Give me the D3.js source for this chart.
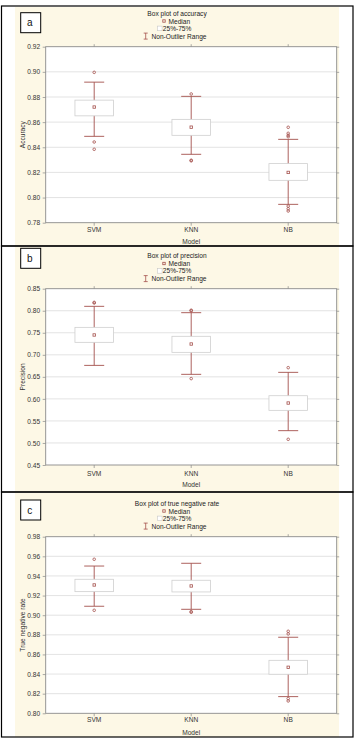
<!DOCTYPE html>
<html><head><meta charset="utf-8">
<script src="https://cdn.jsdelivr.net/npm/d3@7/dist/d3.min.js"></script>
<style>
html,body{margin:0;padding:0;background:#fff;}
svg{display:block;font-family:"Liberation Sans",Arial,sans-serif;}
</style></head>
<body>
<script>
// ---------- DATA ----------
const models = ["SVM", "KNN", "NB"];

// Panel a: accuracy
const accTicks = [0.78, 0.80, 0.82, 0.84, 0.86, 0.88, 0.90, 0.92];
const accMedian = [0.872, 0.856, 0.820];
const accQ1 = [0.865, 0.8495, 0.8137];
const accQ3 = [0.8775, 0.8622, 0.8270];
const accLow = [0.8487, 0.8344, 0.7946];
const accHigh = [0.8918, 0.8805, 0.8463];
const accOutliers = [[0.8996, 0.8442, 0.8384], [0.8824, 0.8297, 0.8292], [0.8559, 0.8511, 0.8495, 0.8484, 0.7932, 0.7911, 0.7893]];

// Panel b: precision
const precTicks = [0.45, 0.50, 0.55, 0.60, 0.65, 0.70, 0.75, 0.80, 0.85];
const precMedian = [0.745, 0.7245, 0.5906];
const precQ1 = [0.7283, 0.7056, 0.574];
const precQ3 = [0.7623, 0.742, 0.6072];
const precLow = [0.676, 0.6557, 0.5279];
const precHigh = [0.810, 0.7956, 0.6602];
const precOutliers = [[0.819, 0.8175], [0.8012, 0.7998, 0.646], [0.6708, 0.5083]];

// Panel c: true negative rate
const tnrTicks = [0.80, 0.82, 0.84, 0.86, 0.88, 0.90, 0.92, 0.94, 0.96, 0.98];
const tnrMedian = [0.9308, 0.9298, 0.8469];
const tnrQ1 = [0.924, 0.9237, 0.8398];
const tnrQ3 = [0.9366, 0.9356, 0.854];
const tnrLow = [0.9091, 0.906, 0.817];
const tnrHigh = [0.9501, 0.9529, 0.8775];
const tnrOutliers = [[0.957, 0.905], [0.9036, 0.9030], [0.8836, 0.8809, 0.8150, 0.8126]];

// ---------- BUILD ----------
const W = 358, H = 740;
const svg = d3.select("body").append("svg").attr("width", W).attr("height", H);

const RED = "#a4504c";
const panels = [
  {letter: "a", title: "Box plot of accuracy", yLabel: "Accuracy", ticks: accTicks,
   med: accMedian, q1: accQ1, q3: accQ3, lo: accLow, hi: accHigh, out: accOutliers,
   top: 6, bottom: 246, titleY: 15.5, boxY: 12.7, plotTop: 46.7, plotBottom: 222.7, xLabY: 232.5, modelY: 243.5},
  {letter: "b", title: "Box plot of precision", yLabel: "Precision", ticks: precTicks,
   med: precMedian, q1: precQ1, q3: precQ3, lo: precLow, hi: precHigh, out: precOutliers,
   top: 246, bottom: 492, titleY: 258, boxY: 248.3, plotTop: 288.7, plotBottom: 465, xLabY: 475.5, modelY: 486.5},
  {letter: "c", title: "Box plot of true negative rate", yLabel: "True negative rate", ticks: tnrTicks,
   med: tnrMedian, q1: tnrQ1, q3: tnrQ3, lo: tnrLow, hi: tnrHigh, out: tnrOutliers,
   top: 492, bottom: 737, titleY: 505.5, boxY: 500, plotTop: 536.7, plotBottom: 713.3, xLabY: 722.5, modelY: 734.5}
];

const plotLeft = 45.7, plotRight = 336.7;

panels.forEach(p => {
  const g = svg.append("g");
  // cream background
  g.append("rect").attr("x", 15).attr("y", p.top + 1).attr("width", 324).attr("height", p.bottom - p.top - 1)
    .attr("fill", "#fdf8e6");
  // panel border
  g.append("rect").attr("x", 1.5).attr("y", p.top).attr("width", 351.5).attr("height", p.bottom - p.top)
    .attr("fill", "none").attr("stroke", "#000").attr("stroke-width", 1.2);

  // label box
  g.append("rect").attr("x", 20.7).attr("y", p.boxY).attr("width", 20).attr("height", 20)
    .attr("fill", "#fff").attr("stroke", "#000").attr("stroke-width", 1);
  g.append("text").attr("x", 29.8).attr("y", p.boxY + 13.5).attr("text-anchor", "middle")
    .attr("font-size", 10).attr("fill", "#111").text(p.letter);

  // title & legend
  const cx = 177;
  g.append("text").attr("x", cx).attr("y", p.titleY).attr("text-anchor", "middle")
    .attr("font-size", 6.6).attr("fill", "#222").text(p.title);
  // Median
  g.append("rect").attr("x", 162.8).attr("y", p.titleY + 4.3).attr("width", 2.4).attr("height", 2.4)
    .attr("fill", "none").attr("stroke", RED).attr("stroke-width", 0.8);
  g.append("text").attr("x", 168.5).attr("y", p.titleY + 8).attr("font-size", 6.6).attr("fill", "#222").text("Median");
  // 25%-75%
  g.append("rect").attr("x", 157.5).attr("y", p.titleY + 10.6).attr("width", 4.6).attr("height", 4.6)
    .attr("fill", "#fff").attr("stroke", "#c8c8c8").attr("stroke-width", 0.6);
  g.append("text").attr("x", 162.8).attr("y", p.titleY + 15.3).attr("font-size", 6.6).attr("fill", "#222").text("25%-75%");
  // Non-Outlier Range
  const wy0 = p.titleY + 17.6, wy1 = p.titleY + 23.6;
  g.append("line").attr("x1", 145.7).attr("x2", 145.7).attr("y1", wy0).attr("y2", wy1).attr("stroke", RED).attr("stroke-width", 0.8);
  g.append("line").attr("x1", 143.7).attr("x2", 147.7).attr("y1", wy0).attr("y2", wy0).attr("stroke", RED).attr("stroke-width", 0.8);
  g.append("line").attr("x1", 143.7).attr("x2", 147.7).attr("y1", wy1).attr("y2", wy1).attr("stroke", RED).attr("stroke-width", 0.8);
  g.append("text").attr("x", 151.5).attr("y", p.titleY + 23.3).attr("font-size", 6.6).attr("fill", "#222").text("Non-Outlier Range");

  // scales
  const x = d3.scaleBand().domain(models).range([plotLeft, plotRight]).padding(0);
  const y = d3.scaleLinear().domain([p.ticks[0], p.ticks[p.ticks.length - 1]]).range([p.plotBottom, p.plotTop]);

  // plot bg
  g.append("rect").attr("x", plotLeft).attr("y", p.plotTop).attr("width", plotRight - plotLeft)
    .attr("height", p.plotBottom - p.plotTop).attr("fill", "#fff");

  // gridlines
  g.append("g").selectAll("line").data(p.ticks.slice(1, -1)).join("line")
    .attr("x1", plotLeft).attr("x2", plotRight).attr("y1", d => y(d)).attr("y2", d => y(d))
    .attr("stroke", "#dcdcdc").attr("stroke-width", 0.8);

  // left axis
  const yAxis = d3.axisLeft(y).tickValues(p.ticks).tickFormat(d3.format(".2f")).tickSize(3).tickPadding(2.5);
  const ya = g.append("g").attr("transform", `translate(${plotLeft},0)`).call(yAxis);
  ya.select(".domain").remove();
  ya.selectAll("line").attr("stroke", "#888").attr("stroke-width", 0.7);
  ya.selectAll("text").attr("font-size", 6.6).attr("fill", "#333").attr("font-family", "Liberation Sans, Arial, sans-serif");
  // right ticks
  const yr = g.append("g").attr("transform", `translate(${plotRight},0)`).call(d3.axisRight(y).tickValues(p.ticks).tickSize(2.5).tickFormat(""));
  yr.select(".domain").remove();
  yr.selectAll("line").attr("stroke", "#888").attr("stroke-width", 0.7);

  // bottom axis
  const xAxis = d3.axisBottom(x).tickSize(3).tickPadding(4);
  const xa = g.append("g").attr("transform", `translate(0,${p.plotBottom})`).call(xAxis);
  xa.select(".domain").remove();
  xa.selectAll("line").attr("stroke", "#888").attr("stroke-width", 0.7);
  xa.selectAll("text").attr("font-size", 6.6).attr("fill", "#333").attr("font-family", "Liberation Sans, Arial, sans-serif")
    .attr("dy", null).attr("y", p.xLabY - p.plotBottom);
  // top ticks
  const xt = g.append("g").attr("transform", `translate(0,${p.plotTop})`).call(d3.axisTop(x).tickSize(2.5).tickFormat(""));
  xt.select(".domain").remove();
  xt.selectAll("line").attr("stroke", "#888").attr("stroke-width", 0.7);

  // frame
  g.append("rect").attr("x", plotLeft).attr("y", p.plotTop).attr("width", plotRight - plotLeft)
    .attr("height", p.plotBottom - p.plotTop).attr("fill", "none").attr("stroke", "#8a8a8a").attr("stroke-width", 0.9);

  // axis titles
  g.append("text").attr("x", (plotLeft + plotRight) / 2).attr("y", p.modelY).attr("text-anchor", "middle")
    .attr("font-size", 6.6).attr("fill", "#333").text("Model");
  g.append("text").attr("transform", `translate(24.5,${(p.plotTop + p.plotBottom) / 2}) rotate(-90)`)
    .attr("text-anchor", "middle").attr("font-size", 6.6).attr("fill", "#333").text(p.yLabel);

  // boxes
  const bw = 38.5, cw = 20;
  models.forEach((m, i) => {
    const c = x(m) + x.bandwidth() / 2;
    const bg = g.append("g");
    bg.append("line").attr("x1", c).attr("x2", c).attr("y1", y(p.hi[i])).attr("y2", y(p.lo[i]))
      .attr("stroke", RED).attr("stroke-width", 0.9);
    [p.hi[i], p.lo[i]].forEach(v => {
      bg.append("line").attr("x1", c - cw / 2).attr("x2", c + cw / 2).attr("y1", y(v)).attr("y2", y(v))
        .attr("stroke", RED).attr("stroke-width", 0.9);
    });
    bg.append("rect").attr("x", c - bw / 2).attr("y", y(p.q3[i])).attr("width", bw)
      .attr("height", y(p.q1[i]) - y(p.q3[i])).attr("fill", "#fff").attr("stroke", "#cfcfcf").attr("stroke-width", 0.8);
    bg.append("rect").attr("x", c - 1.2).attr("y", y(p.med[i]) - 1.2).attr("width", 2.4).attr("height", 2.4)
      .attr("fill", "#fff").attr("stroke", RED).attr("stroke-width", 0.8);
    bg.selectAll("circle").data(p.out[i]).join("circle")
      .attr("cx", c).attr("cy", d => y(d)).attr("r", 1.3)
      .attr("fill", "none").attr("stroke", RED).attr("stroke-width", 0.8);
  });
});
</script>
</body></html>
